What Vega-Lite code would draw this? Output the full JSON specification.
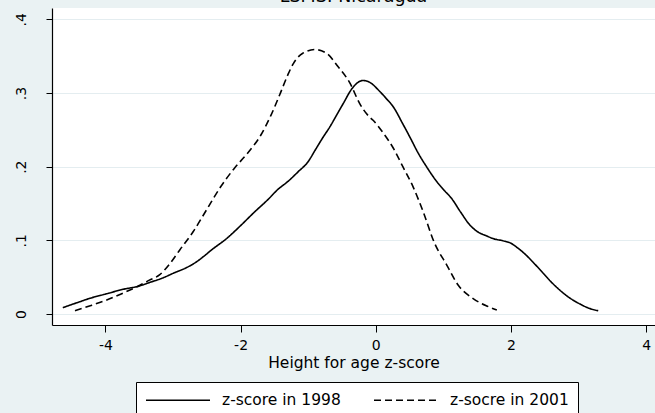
{
  "$schema": "https://vega.github.io/schema/vega-lite/v6.json",
  "width": 603,
  "height": 317,
  "autosize": {"type": "none"},
  "padding": {"left": 52, "top": 8, "right": 0, "bottom": 88},
  "background": "#EAF2F3",
  "title": {"text": "LSMS: Nicaragua", "fontSize": 17.5, "font": "DejaVu Sans", "fontWeight": "normal", "color": "black", "anchor": "middle", "baseline": "alphabetic", "offset": -11},
  "config": {
    "view": {"fill": "white", "stroke": null},
    "font": "DejaVu Sans"
  },
  "data": {"values": [
    {"series": "z-score in 1998", "x": -4.63, "y": 0.0086},
    {"series": "z-score in 1998", "x": -4.4, "y": 0.016},
    {"series": "z-score in 1998", "x": -4.23, "y": 0.0213},
    {"series": "z-score in 1998", "x": -4.0, "y": 0.027},
    {"series": "z-score in 1998", "x": -3.74, "y": 0.0335},
    {"series": "z-score in 1998", "x": -3.5, "y": 0.038},
    {"series": "z-score in 1998", "x": -3.34, "y": 0.043},
    {"series": "z-score in 1998", "x": -3.15, "y": 0.049},
    {"series": "z-score in 1998", "x": -3.0, "y": 0.0552},
    {"series": "z-score in 1998", "x": -2.8, "y": 0.063},
    {"series": "z-score in 1998", "x": -2.65, "y": 0.071},
    {"series": "z-score in 1998", "x": -2.55, "y": 0.078},
    {"series": "z-score in 1998", "x": -2.43, "y": 0.087},
    {"series": "z-score in 1998", "x": -2.2, "y": 0.103},
    {"series": "z-score in 1998", "x": -2.0, "y": 0.12},
    {"series": "z-score in 1998", "x": -1.8, "y": 0.138},
    {"series": "z-score in 1998", "x": -1.6, "y": 0.155},
    {"series": "z-score in 1998", "x": -1.45, "y": 0.169},
    {"series": "z-score in 1998", "x": -1.3, "y": 0.18},
    {"series": "z-score in 1998", "x": -1.15, "y": 0.193},
    {"series": "z-score in 1998", "x": -1.0, "y": 0.207},
    {"series": "z-score in 1998", "x": -0.9, "y": 0.222},
    {"series": "z-score in 1998", "x": -0.78, "y": 0.24},
    {"series": "z-score in 1998", "x": -0.68, "y": 0.254},
    {"series": "z-score in 1998", "x": -0.58, "y": 0.27},
    {"series": "z-score in 1998", "x": -0.48, "y": 0.286},
    {"series": "z-score in 1998", "x": -0.36, "y": 0.305},
    {"series": "z-score in 1998", "x": -0.27, "y": 0.314},
    {"series": "z-score in 1998", "x": -0.19, "y": 0.317},
    {"series": "z-score in 1998", "x": -0.1, "y": 0.315},
    {"series": "z-score in 1998", "x": 0.06, "y": 0.302},
    {"series": "z-score in 1998", "x": 0.15, "y": 0.293},
    {"series": "z-score in 1998", "x": 0.26, "y": 0.281},
    {"series": "z-score in 1998", "x": 0.4, "y": 0.258},
    {"series": "z-score in 1998", "x": 0.55, "y": 0.232},
    {"series": "z-score in 1998", "x": 0.6, "y": 0.223},
    {"series": "z-score in 1998", "x": 0.75, "y": 0.2},
    {"series": "z-score in 1998", "x": 0.9, "y": 0.18},
    {"series": "z-score in 1998", "x": 1.0, "y": 0.169},
    {"series": "z-score in 1998", "x": 1.12, "y": 0.157},
    {"series": "z-score in 1998", "x": 1.25, "y": 0.139},
    {"series": "z-score in 1998", "x": 1.39, "y": 0.121},
    {"series": "z-score in 1998", "x": 1.5, "y": 0.112},
    {"series": "z-score in 1998", "x": 1.64, "y": 0.106},
    {"series": "z-score in 1998", "x": 1.75, "y": 0.102},
    {"series": "z-score in 1998", "x": 1.88, "y": 0.0995},
    {"series": "z-score in 1998", "x": 2.0, "y": 0.096},
    {"series": "z-score in 1998", "x": 2.08, "y": 0.091},
    {"series": "z-score in 1998", "x": 2.2, "y": 0.082},
    {"series": "z-score in 1998", "x": 2.35, "y": 0.068},
    {"series": "z-score in 1998", "x": 2.48, "y": 0.055},
    {"series": "z-score in 1998", "x": 2.6, "y": 0.043},
    {"series": "z-score in 1998", "x": 2.72, "y": 0.0326},
    {"series": "z-score in 1998", "x": 2.85, "y": 0.023},
    {"series": "z-score in 1998", "x": 3.02, "y": 0.0136},
    {"series": "z-score in 1998", "x": 3.15, "y": 0.008},
    {"series": "z-score in 1998", "x": 3.29, "y": 0.0045},
    {"series": "z-socre in 2001", "x": -4.45, "y": 0.0045},
    {"series": "z-socre in 2001", "x": -4.2, "y": 0.012},
    {"series": "z-socre in 2001", "x": -3.98, "y": 0.019},
    {"series": "z-socre in 2001", "x": -3.75, "y": 0.028},
    {"series": "z-socre in 2001", "x": -3.49, "y": 0.039},
    {"series": "z-socre in 2001", "x": -3.35, "y": 0.046},
    {"series": "z-socre in 2001", "x": -3.2, "y": 0.053},
    {"series": "z-socre in 2001", "x": -3.05, "y": 0.068},
    {"series": "z-socre in 2001", "x": -2.9, "y": 0.087},
    {"series": "z-socre in 2001", "x": -2.7, "y": 0.112},
    {"series": "z-socre in 2001", "x": -2.5, "y": 0.142},
    {"series": "z-socre in 2001", "x": -2.3, "y": 0.172},
    {"series": "z-socre in 2001", "x": -2.1, "y": 0.197},
    {"series": "z-socre in 2001", "x": -1.9, "y": 0.218},
    {"series": "z-socre in 2001", "x": -1.7, "y": 0.243},
    {"series": "z-socre in 2001", "x": -1.55, "y": 0.27},
    {"series": "z-socre in 2001", "x": -1.42, "y": 0.298},
    {"series": "z-socre in 2001", "x": -1.3, "y": 0.325},
    {"series": "z-socre in 2001", "x": -1.22, "y": 0.34},
    {"series": "z-socre in 2001", "x": -1.08, "y": 0.354},
    {"series": "z-socre in 2001", "x": -0.9, "y": 0.359},
    {"series": "z-socre in 2001", "x": -0.73, "y": 0.354},
    {"series": "z-socre in 2001", "x": -0.56, "y": 0.336},
    {"series": "z-socre in 2001", "x": -0.38, "y": 0.313},
    {"series": "z-socre in 2001", "x": -0.24, "y": 0.286},
    {"series": "z-socre in 2001", "x": -0.1, "y": 0.268},
    {"series": "z-socre in 2001", "x": -0.04, "y": 0.263},
    {"series": "z-socre in 2001", "x": 0.1, "y": 0.247},
    {"series": "z-socre in 2001", "x": 0.26, "y": 0.225},
    {"series": "z-socre in 2001", "x": 0.4, "y": 0.2},
    {"series": "z-socre in 2001", "x": 0.55, "y": 0.173},
    {"series": "z-socre in 2001", "x": 0.7, "y": 0.139},
    {"series": "z-socre in 2001", "x": 0.87, "y": 0.096},
    {"series": "z-socre in 2001", "x": 1.05, "y": 0.0665},
    {"series": "z-socre in 2001", "x": 1.22, "y": 0.039},
    {"series": "z-socre in 2001", "x": 1.44, "y": 0.021},
    {"series": "z-socre in 2001", "x": 1.64, "y": 0.011},
    {"series": "z-socre in 2001", "x": 1.79, "y": 0.0054}
  ]},
  "mark": {"type": "line", "color": "black", "strokeWidth": 1.6, "interpolate": "monotone", "clip": true},
  "encoding": {
    "x": {
      "field": "x", "type": "quantitative",
      "scale": {"domain": [-4.79, 4.13], "nice": false, "zero": false},
      "axis": {
        "title": "Height for age z-score", "values": [-4, -2, 0, 2, 4], "grid": false,
        "labelExpr": "datum.value < 0 ? '-' + abs(datum.value) : '' + datum.value",
        "domainColor": "black", "domainWidth": 1.2, "tickColor": "black", "tickSize": 7, "tickWidth": 1,
        "labelFontSize": 14, "labelColor": "black", "labelPadding": 6, "labelFlush": false,
        "titleFontSize": 15.5, "titleFontWeight": "normal", "titleColor": "black", "titlePadding": 3
      }
    },
    "y": {
      "field": "y", "type": "quantitative",
      "scale": {"domain": [-0.0149, 0.4154], "nice": false, "zero": false},
      "axis": {
        "title": null, "values": [0, 0.1, 0.2, 0.3, 0.4], "grid": true, "gridColor": "#E4EDF0", "gridWidth": 1.2,
        "labelExpr": "datum.value == 0 ? '0' : replace(format(datum.value, '.1f'), '0.', '.')",
        "domainColor": "black", "domainWidth": 1.2, "tickColor": "black", "tickSize": 6, "tickWidth": 1,
        "labelFontSize": 14, "labelColor": "black", "labelAngle": 270, "labelAlign": "center", "labelBaseline": "bottom", "labelPadding": 18
      }
    },
    "strokeDash": {
      "field": "series", "type": "nominal",
      "scale": {"domain": ["z-score in 1998", "z-socre in 2001"], "range": [[1, 0], [7, 4]]},
      "legend": {
        "title": null, "orient": "none", "legendX": 84, "legendY": 374, "direction": "horizontal",
        "strokeColor": "black", "fillColor": "white", "padding": 9,
        "symbolType": "M-1,0H7", "symbolSize": 256, "symbolStrokeColor": "black", "symbolStrokeWidth": 1.5,
        "labelFontSize": 15.5, "labelColor": "black", "labelOffset": 59, "columnPadding": 30
      }
    }
  }
}
